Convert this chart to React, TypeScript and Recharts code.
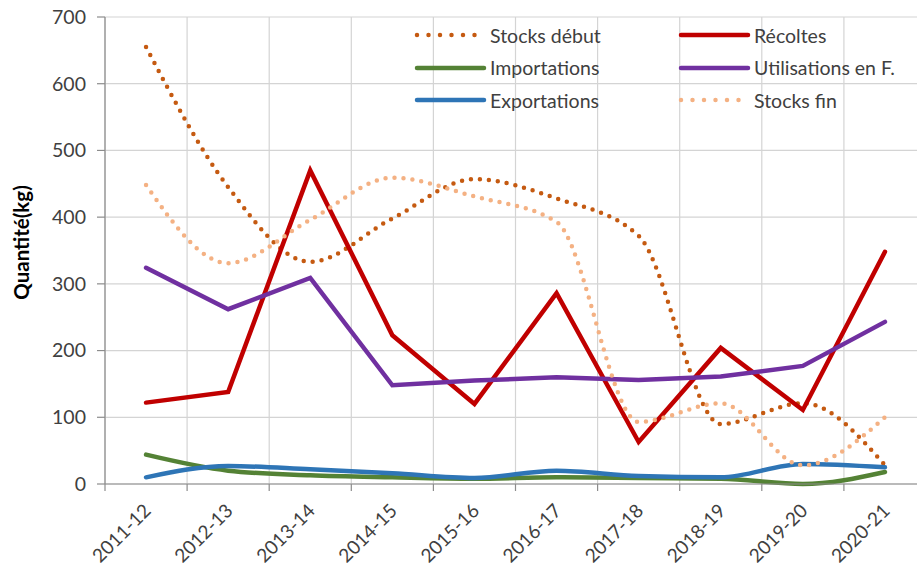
import React from 'react';
import { LineChart, Line, XAxis, YAxis, CartesianGrid, Legend } from 'recharts';

const categories = ['2011-12', '2012-13', '2013-14', '2014-15', '2015-16', '2016-17', '2017-18', '2018-19', '2019-20', '2020-21'];

const stocksDebut = [655, 445, 333, 398, 457, 428, 372, 90, 121, 28];
const recoltes = [122, 138, 470, 223, 120, 286, 63, 204, 111, 348];
const importations = [44, 20, 13, 10, 8, 10, 9, 8, 0, 18];
const utilisations = [324, 262, 309, 148, 155, 160, 156, 161, 177, 243];
const exportations = [10, 27, 22, 16, 9, 20, 12, 10, 30, 25];
const stocksFin = [448, 331, 396, 459, 431, 393, 93, 121, 28, 100];

const yTicks = [0, 100, 200, 300, 400, 500, 600, 700];
// one boundary per category edge, used for the vertical grid and the axis tick marks
const boundaryTicks = [0, 1, 2, 3, 4, 5, 6, 7, 8, 9, 10];

const FONT = 'Lato, "Open Sans", sans-serif';
const TEXT = '#404040';

const series = [
    { key: 'stocksDebut', name: 'Stocks début', color: '#C55A11', dotted: true, smooth: true },
    { key: 'recoltes', name: 'Récoltes', color: '#C00000', dotted: false, smooth: false },
    { key: 'importations', name: 'Importations', color: '#548235', dotted: false, smooth: true },
    { key: 'utilisations', name: 'Utilisations en F.', color: '#7030A0', dotted: false, smooth: false },
    { key: 'exportations', name: 'Exportations', color: '#2E75B6', dotted: false, smooth: true },
    { key: 'stocksFin', name: 'Stocks fin', color: '#F4B183', dotted: true, smooth: true },
];

const data = categories.map((periode, i) => ({
    periode,
    stocksDebut: stocksDebut[i],
    recoltes: recoltes[i],
    importations: importations[i],
    utilisations: utilisations[i],
    exportations: exportations[i],
    stocksFin: stocksFin[i],
}));

const CategoryTick = ({ x, y, payload }: any) => {
    const ax = x + 6;
    const ay = y + 18;
    return (
        <text
            x={ax}
            y={ay}
            transform={`rotate(-45, ${ax}, ${ay})`}
            textAnchor="end"
            fill={TEXT}
            fontSize={19}
            fontFamily={FONT}
        >
            {payload.value}
        </text>
    );
};

const renderLegend = () => (
    <div style={{
        display: 'grid',
        gridTemplateColumns: '264px 264px',
        fontFamily: FONT,
        fontSize: 19.5,
        color: TEXT,
    }}>
        {series.map(s => (
            <div key={s.key} style={{ display: 'flex', alignItems: 'center', height: 32.5 }}>
                <svg width={76} height={10} style={{ flexShrink: 0 }}>
                    <line
                        x1={3}
                        y1={5}
                        x2={70}
                        y2={5}
                        stroke={s.color}
                        strokeWidth={4.5}
                        strokeLinecap="round"
                        strokeDasharray={s.dotted ? '0 11.5' : undefined}
                    />
                </svg>
                <span style={{ whiteSpace: 'nowrap' }}>{s.name}</span>
            </div>
        ))}
    </div>
);

const App: React.FC = () => {
    return (
        <div style={{
            position: 'absolute',
            left: 0,
            top: 0,
            width: 917,
            height: 568,
            overflow: 'hidden',
            backgroundColor: 'white',
        }}>
            <LineChart
                width={930}
                height={568}
                data={data}
                margin={{ top: 17, right: 4, bottom: 0, left: 0 }}
            >
                <CartesianGrid xAxisId="edges" stroke="#d4d4d4" strokeWidth={1.2} />
                <XAxis
                    xAxisId="periods"
                    dataKey="periode"
                    scale="band"
                    height={74}
                    axisLine={false}
                    tickLine={false}
                    tickSize={0}
                    tickMargin={0}
                    interval={0}
                    tick={<CategoryTick />}
                />
                {/* numeric helper axis: draws the category boundaries (grid + tick marks) */}
                <XAxis
                    xAxisId="edges"
                    type="number"
                    dataKey={() => 0}
                    domain={[0, categories.length]}
                    allowDataOverflow={true}
                    ticks={boundaryTicks}
                    interval={0}
                    height={10}
                    tickSize={7}
                    tickFormatter={() => ''}
                    stroke="#8c8c8c"
                    strokeWidth={1.2}
                />
                <YAxis
                    domain={[0, 700]}
                    ticks={yTicks}
                    width={105}
                    tickSize={8}
                    tickMargin={11}
                    stroke="#8c8c8c"
                    strokeWidth={1.2}
                    tick={{ fill: TEXT, fontSize: 19.5, fontFamily: FONT }}
                    label={{
                        content: ({ viewBox }: any) => {
                            const cx = 21;
                            const cy = viewBox.y + viewBox.height / 2 - 8;
                            return (
                                <text
                                    x={cx}
                                    y={cy}
                                    transform={`rotate(-90, ${cx}, ${cy})`}
                                    textAnchor="middle"
                                    dominantBaseline="central"
                                    fontWeight="bold"
                                    fontSize={20.5}
                                    fontFamily={FONT}
                                    fill="#000"
                                >
                                    Quantité(kg)
                                </text>
                            );
                        },
                    }}
                />
                <Legend
                    layout="horizontal"
                    verticalAlign="middle"
                    align="center"
                    content={renderLegend}
                    wrapperStyle={{ position: 'absolute', top: 19, left: 414, width: 540 }}
                />
                {series.map(s => (
                    <Line
                        key={s.key}
                        xAxisId="periods"
                        type={s.smooth ? 'monotone' : 'linear'}
                        dataKey={s.key}
                        name={s.name}
                        stroke={s.color}
                        strokeWidth={4.5}
                        strokeLinecap="round"
                        strokeDasharray={s.dotted ? '0 9' : undefined}
                        dot={false}
                        activeDot={false}
                        isAnimationActive={false}
                    />
                ))}
            </LineChart>
        </div>
    );
};

export default App;
